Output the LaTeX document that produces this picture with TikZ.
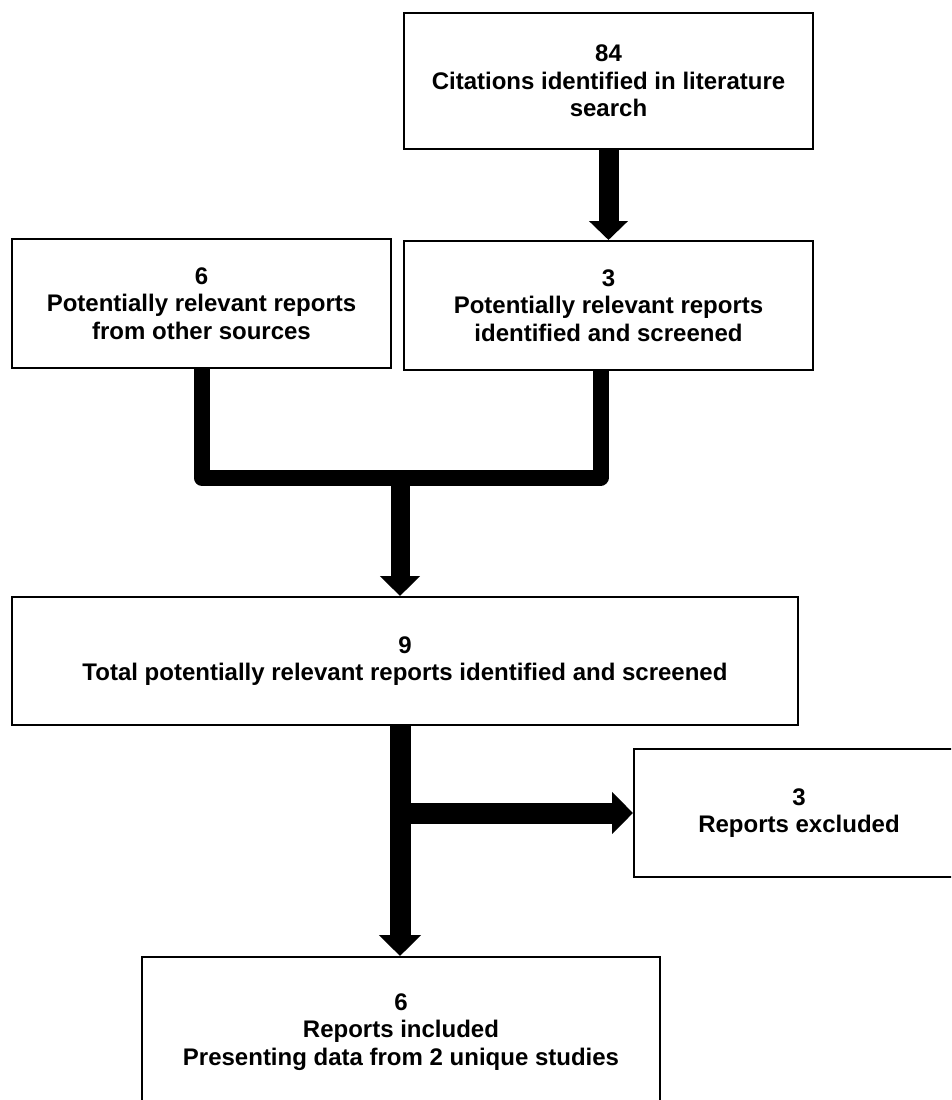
\documentclass[tikz,border=0pt]{standalone}
\usepackage{fontspec}
\setmainfont{Liberation Sans}
\usetikzlibrary{arrows.meta}
\tikzset{
  box/.style={draw, line width=2pt, inner sep=0pt, align=center,
    font=\fontsize{24}{27.5}\selectfont\bfseries},
  merge/.style={line width=16pt, line join=round},
}
\begin{document}
\begin{tikzpicture}[x=1pt,y=-1pt]
\useasboundingbox (0,0) rectangle (951,1100);
\fill[white] (0,0) rectangle (951,1100);
\clip (0,0) rectangle (951,1100);
\node[box, minimum width=409pt, minimum height=136pt] (b1) at (608.5,81) {84\\Citations identified in literature\\search};
\node[box, minimum width=379pt, minimum height=129pt] (b2) at (201.5,303.5) {6\\Potentially relevant reports\\from other sources};
\node[box, minimum width=409pt, minimum height=129pt] (b3) at (608.5,305.5) {3\\Potentially relevant reports\\identified and screened};
\node[box, minimum width=786pt, minimum height=128pt] (b4) at (405,661) {9\\Total potentially relevant reports identified and screened};
\node[box, minimum width=330pt, minimum height=128pt] (b5) at (799,813) {3\\Reports excluded};
\node[box, minimum width=518pt, minimum height=150pt] (b6) at (401,1032) {6\\Reports included\\Presenting data from 2 unique studies};
\coordinate (m) at (400,477.5);
\draw[line width=20pt, -{Triangle[width=38pt,length=19pt]}] (b1.south) -- (b3.north);
\draw[merge] (b2.south) |- (m) -| ([xshift=-8pt]b3.south);
\draw[line width=19pt, -{Triangle[width=39pt,length=20pt]}] (m) -- (m |- b4.north);
\coordinate (j) at (m |- b5.west);
\draw[line width=21pt, -{Triangle[width=41pt,length=21pt]}] (b4.south -| m) -- (m |- b6.north);
\draw[line width=21pt, -{Triangle[width=41pt,length=21pt]}] ([xshift=-10pt]j) -- (b5.west);
\end{tikzpicture}
\end{document}
